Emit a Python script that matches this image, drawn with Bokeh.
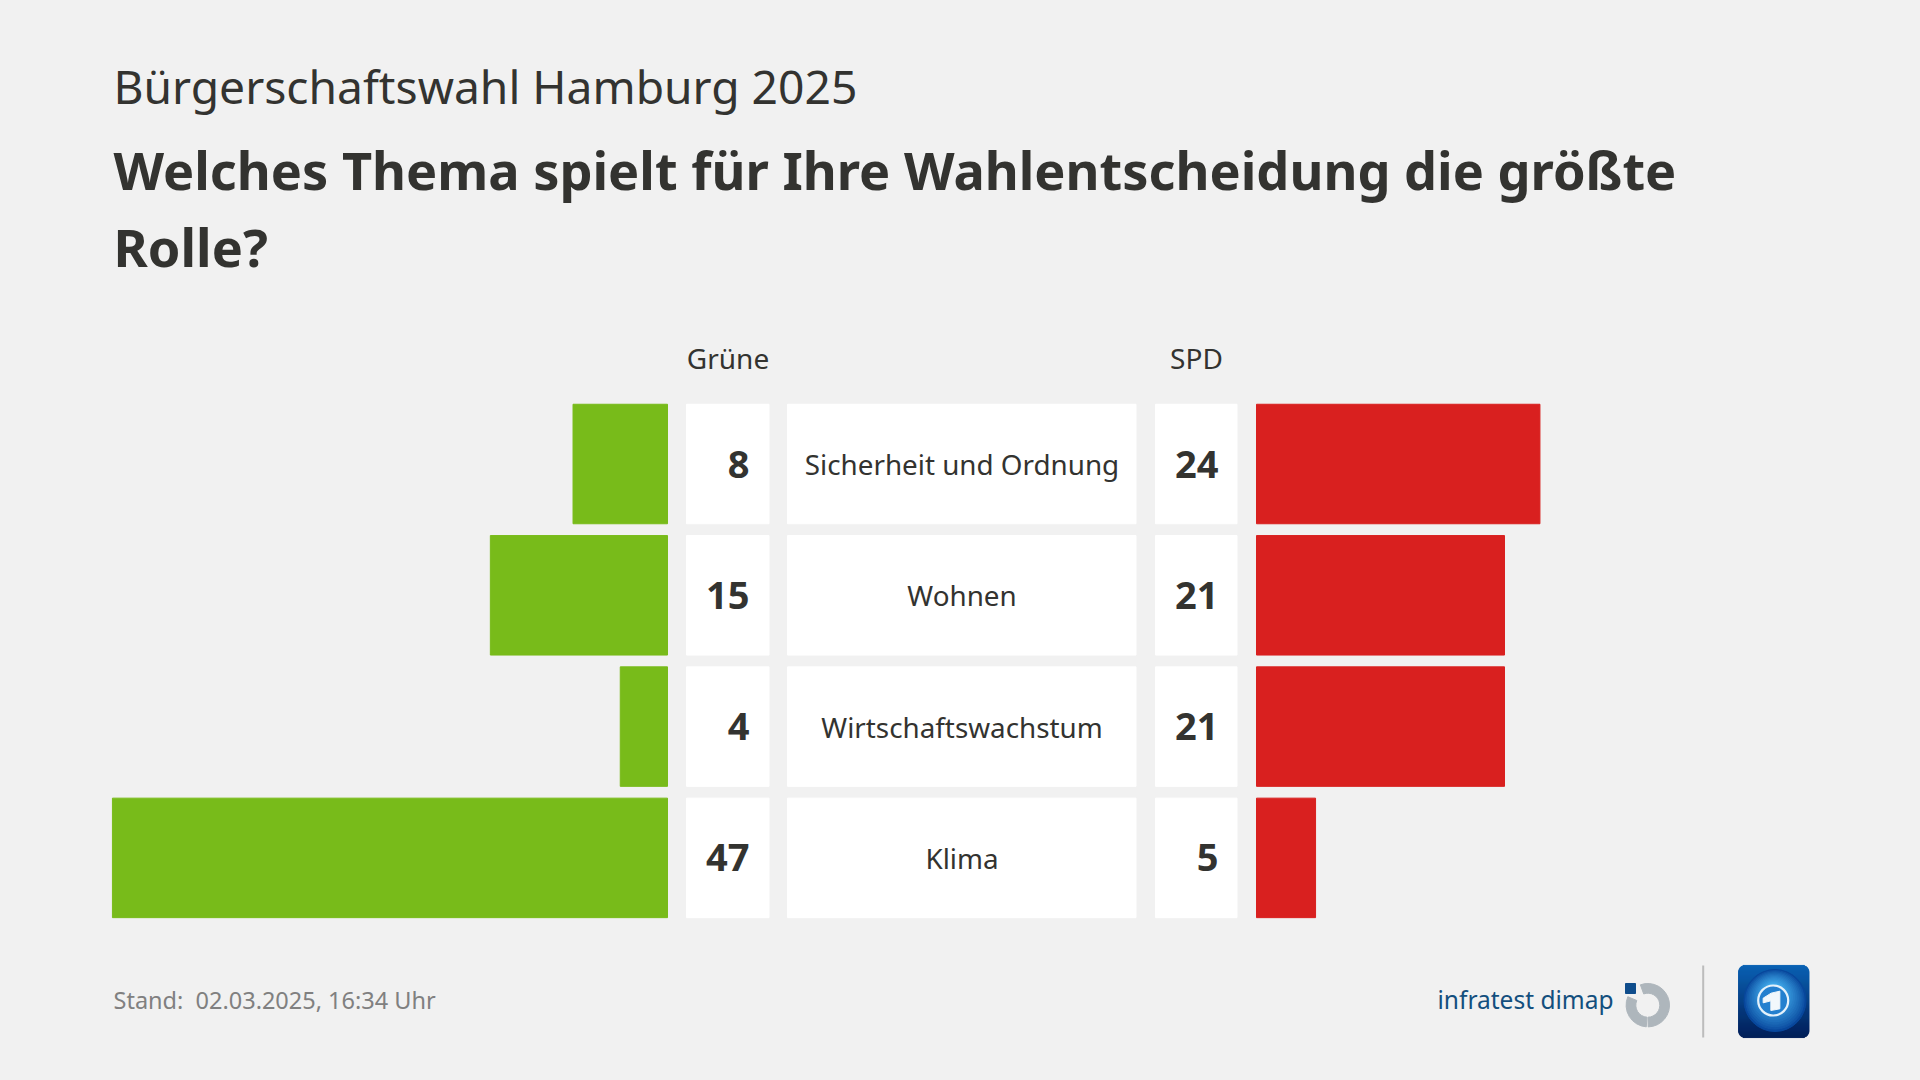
from bokeh.plotting import figure
from bokeh.models import Range1d, ColumnDataSource
from bokeh.core.properties import value
from bokeh.embed import file_html
from bokeh.resources import INLINE
import math

# ---- data -------------------------------------------------------------
topics = ["Sicherheit und Ordnung", "Wohnen", "Wirtschaftswachstum", "Klima"]
gruene = [8, 15, 4, 47]
spd = [24, 21, 21, 5]
rows = [0, 1, 2, 3]
kicker = "Bürgerschaftswahl Hamburg 2025"
title_lines = ["Welches Thema spielt für Ihre Wahlentscheidung die größte", "Rolle?"]
footer = "Stand:\u00a0\u00a002.03.2025, 16:34 Uhr"

BG = "#f1f1f1"
INK = "#333330"
GREEN = "#78bb1a"
RED = "#d9201f"
FONT = "Noto Sans"

W, H = 1920, 1080
p = figure(width=W, height=H, output_backend="svg", toolbar_location=None,
           x_range=Range1d(0, W), y_range=Range1d(H, 0),
           min_border=0, background_fill_color=BG, border_fill_color=BG,
           outline_line_color=None)
p.axis.visible = False
p.grid.visible = False

PX = 11.81                # px per percentage point
G0, R0 = 667.0, 1256.0    # zero lines
ROW0, PITCH = 463.5, 131.3
p.extra_x_ranges["green"] = Range1d(G0 / PX, (G0 - W) / PX)
p.extra_x_ranges["red"] = Range1d(-R0 / PX, (W - R0) / PX)
p.extra_y_ranges["rows"] = Range1d((H - ROW0) / PITCH, -ROW0 / PITCH)

src = ColumnDataSource(dict(row=rows, topic=topics, g=gruene, s=spd,
                            gt=[str(v) for v in gruene], st=[str(v) for v in spd]))
BAR_H = 119.5 / PITCH

p.hbar(y="row", left=0, right="g", height=BAR_H, source=src, color=GREEN,
       x_range_name="green", y_range_name="rows")
p.hbar(y="row", left=0, right="s", height=BAR_H, source=src, color=RED,
       x_range_name="red", y_range_name="rows")
for x0, x1 in [(686, 768.5), (787, 1135.5), (1155, 1236.5)]:
    p.hbar(y="row", left=x0, right=x1, height=BAR_H, source=src, color="white", y_range_name="rows")


def txt(x, y, s, size, bold=False, color=INK, align="left", font=FONT):
    # the baseline of a text glyph sits lower than asked, in proportion to its size
    p.text(x=[x], y=[y - 0.41 * size], text=[s], text_font=value(font), text_font_size=f"{size}px",
           text_font_style="bold" if bold else "normal", text_color=color,
           text_align=align, text_baseline="alphabetic")


txt(113, 105, kicker, 46.2)
txt(113, 190, title_lines[0], 52.3, bold=True)
txt(113, 267, title_lines[1], 52.3, bold=True)
txt(727.5, 369, "Grüne", 28, align="center")
txt(1196, 369, "SPD", 28, align="center")
txt(113, 1009, footer, 23.5, color="#808080")

for col, x, al, bold, size in [("gt", 749, "right", True, 38), ("st", 1218, "right", True, 38),
                               ("topic", 961.5, "center", False, 27.8)]:
    p.text(x=x, y="row", text=col, source=src, y_range_name="rows",
           text_font=value(FONT), text_font_size=f"{size}px",
           text_font_style="bold" if bold else "normal",
           text_color=INK, text_align=al, text_baseline="middle")

# ---- infratest dimap logo ----------------------------------------------
txt(1437, 1009, "infratest dimap", 24.5, color="#134f7e")
p.quad(left=[1625], right=[1635], top=[983], bottom=[993], color="#0f4d8c")
for a0, a1 in [(-89, 110), (157, 266)]:
    p.annular_wedge(x=[1647.3], y=[1004.7], inner_radius=12, outer_radius=21.7,
                    start_angle=math.radians(a0), end_angle=math.radians(a1), color="#aeb6bc")
p.line([1702.7, 1702.7], [965, 1037], line_color="#bcbcbc", line_width=2)

# ---- broadcaster icon ---------------------------------------------------
IX0, IX1, IY0, IY1, IR = 1738, 1808.5, 965, 1037, 7


def mix(a, b, t):
    ca = [int(a[i:i + 2], 16) for i in (1, 3, 5)]
    cb = [int(b[i:i + 2], 16) for i in (1, 3, 5)]
    return "#%02x%02x%02x" % tuple(round(u + (v - u) * t) for u, v in zip(ca, cb))


for k in range(IY1 - IY0):
    y = IY0 + k + 0.5
    d = max(IY0 + IR - y, y - (IY1 - IR), 0)
    inset = IR - math.sqrt(max(IR ** 2 - d ** 2, 0))
    p.quad(left=[IX0 + inset], right=[IX1 - inset], top=[y - 0.55], bottom=[y + 0.55],
           color=mix("#0b62b4", "#03205a", k / (IY1 - IY0 - 1)))
STEPS = 14
for k in range(STEPS):
    t = k / (STEPS - 1)
    p.circle(x=[1774.5 - 1.5 * t], y=[1000 - 8 * t], radius=31 * (1 - 0.75 * t),
             color=mix("#08479c", "#43aeee", t ** 0.8))
p.circle(x=[1772.7], y=[1000], radius=15, fill_color="#2480cf", line_color="#e4f1fb", line_width=2.2)
one_x = [113, 137, 163, 163, 136, 136, 113]
one_y = [128, 113, 107, 160, 165, 136, 142]
p.patch([1725 + v / 3 for v in one_x], [955 + v / 3 for v in one_y], color="#f2f8fc")

html = file_html(p, INLINE).replace("<body>", f'<body style="background:{BG}">')
open("out.html", "w").write(html)
